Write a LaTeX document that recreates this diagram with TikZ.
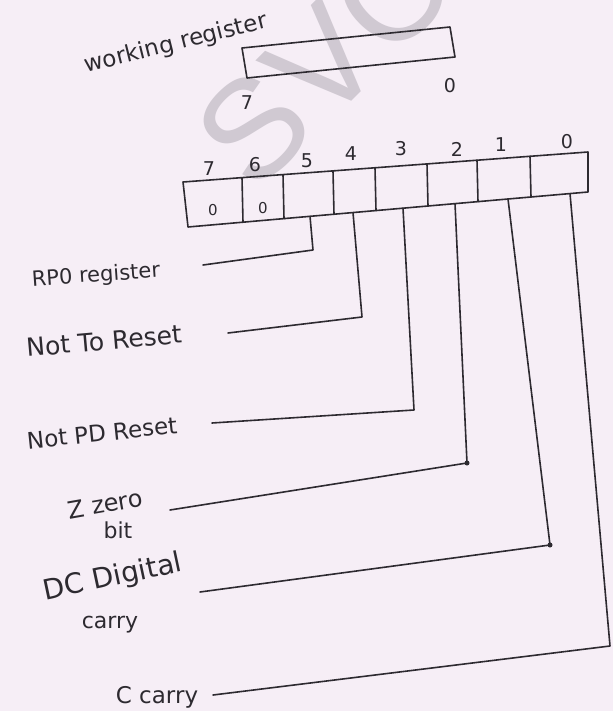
\documentclass[tikz,border=0pt]{standalone}
\usepackage{fontspec}
\setmainfont{DejaVu Sans}
\newfontfamily\wmfont{Liberation Sans}
\definecolor{paper}{RGB}{246,238,246}
\definecolor{ink}{RGB}{45,42,48}
\definecolor{wmgray}{RGB}{208,201,210}
\begin{document}
\begin{tikzpicture}[x=1pt,y=-1pt,
  wire/.style={draw=ink, line width=1.6pt, line join=round, line cap=round},
  lab/.style={text=ink, inner sep=0pt},
  digit/.style={text=ink, inner sep=0pt, font=\fontsize{19}{22}\selectfont},
  cellval/.style={text=ink, inner sep=0pt, font=\fontsize{15}{17}\selectfont},
  wmark/.style={text=wmgray, inner sep=0pt, rotate=45, font=\wmfont\fontsize{140}{140}\selectfont},
  blot/.style={fill=ink, circle, inner sep=0pt, minimum size=5pt}]
\fill[paper] (0,0) rectangle (613,711);
\useasboundingbox (0,0) rectangle (613,711);

% watermark
\node[wmark] (wmS) at (253,128) {S};
\node[wmark] (wmV) at (322,62) {V};
\node[wmark] (wmC) at (391,-6) {C};

% working register
\coordinate (w1) at (242,48); \coordinate (w2) at (450,27);
\coordinate (w3) at (455,57); \coordinate (w4) at (247,78);
\draw[wire] (w1) -- (w2) -- (w3) -- (w4) -- cycle;
\node[lab, font=\fontsize{23}{26}\selectfont, rotate=14] (wrlab) at (176,44) {working register};
\node[digit] (w0) at (450,86) {0};
\node[digit] (w7) at (247,103) {7};

% status register box
\coordinate (TL) at (183,182); \coordinate (TR) at (588,152);
\coordinate (BR) at (588,192); \coordinate (BL) at (188,227);
\draw[wire] (TL) -- (TR) -- (BR) -- (BL) -- cycle;
\foreach \x/\t/\b in {242/177.6/222.3, 283/174.6/218.7, 333/170.9/214.3, 375/167.8/210.6,
                      427/163.9/206.1, 477/160.2/201.7, 530/156.3/197.1}
  \draw[wire] (\x,\t) -- (\x+1,\b);

% bit numbers
\node[digit] (n7) at (209,169) {7};
\node[digit] (n6) at (255,165) {6};
\node[digit] (n5) at (307,161) {5};
\node[digit] (n4) at (351,154) {4};
\node[digit] (n3) at (401,149) {3};
\node[digit] (n2) at (457,149) {2};
\node[digit] (n1) at (501,145) {1};
\node[digit] (n0) at (567,142) {0};

% cell values
\node[cellval] (v7) at (213,210) {0};
\node[cellval] (v6) at (263,208) {0};

% labels
\node[lab, font=\fontsize{21}{24}\selectfont, rotate=4] (l5) at (96,276) {RP0 register};
\node[lab, font=\fontsize{25}{28}\selectfont, rotate=5] (l4) at (104,341) {Not To Reset};
\node[lab, font=\fontsize{23}{26}\selectfont, rotate=6] (l3) at (102,433) {Not PD Reset};
\node[lab, font=\fontsize{24}{27}\selectfont, rotate=10] (l2a) at (105,504) {Z zero};
\node[lab, font=\fontsize{22}{25}\selectfont] (l2b) at (118,530) {bit};
\node[lab, font=\fontsize{28}{31}\selectfont, rotate=12] (l1a) at (113,578) {DC Digital};
\node[lab, font=\fontsize{22}{25}\selectfont] (l1b) at (110,625) {carry};
\node[lab, font=\fontsize{23}{26}\selectfont] (l0) at (157,697) {C carry};

% connectors
\coordinate (b5) at (310,216.3); \coordinate (k5) at (313,250); \coordinate (e5) at (203,265);
\coordinate (b4) at (353,212.6); \coordinate (k4) at (362,317); \coordinate (e4) at (228,333);
\coordinate (b3) at (403,208.2); \coordinate (k3) at (414,410); \coordinate (e3) at (212,423);
\coordinate (b2) at (455,203.6); \coordinate (k2) at (467,463); \coordinate (e2) at (170,510);
\coordinate (b1) at (508,199);   \coordinate (k1) at (550,545); \coordinate (e1) at (200,592);
\coordinate (b0) at (570,193.6); \coordinate (k0) at (610,646); \coordinate (e0) at (213,695);
\draw[wire] (b5) -- (k5) -- (e5);
\draw[wire] (b4) -- (k4) -- (e4);
\draw[wire] (b3) -- (k3) -- (e3);
\draw[wire] (b2) -- (k2) -- (e2);
\draw[wire] (b1) -- (k1) -- (e1);
\draw[wire] (b0) -- (k0) -- (e0);
\node[blot] (d2) at (k2) {};
\node[blot] (d1) at (k1) {};
\end{tikzpicture}
\end{document}
